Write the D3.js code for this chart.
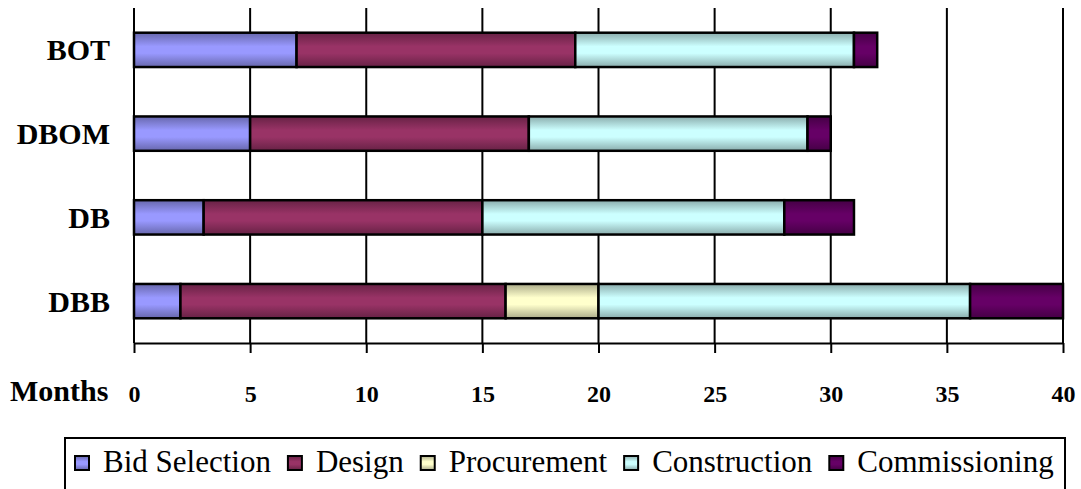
<!DOCTYPE html>
<html><head><meta charset="utf-8">
<script src="https://cdn.jsdelivr.net/npm/d3@7"></script>
<style>
html,body{margin:0;padding:0;background:#fff;}
svg{display:block;}
svg text{font-family:"Liberation Serif","DejaVu Serif",serif;}
</style></head>
<body>
<svg id="chart" width="1081" height="489"></svg>
<script>
const categories = ["BOT", "DBOM", "DB", "DBB"];
const seriesNames = ["Bid Selection", "Design", "Procurement", "Construction", "Commissioning"];
const bidSelection  = [7, 5, 3, 2];
const design        = [12, 12, 12, 14];
const procurement   = [0, 0, 0, 4];
const construction  = [12, 12, 13, 16];
const commissioning = [1, 1, 3, 4];
const xTicks = [0, 5, 10, 15, 20, 25, 30, 35, 40];
const colors = ["#9999FF", "#993366", "#FFFFCC", "#CCFFFF", "#660066"];

const seriesValues = [bidSelection, design, procurement, construction, commissioning];
const rows = categories.map((c, i) => {
  const r = {cat: c};
  seriesNames.forEach((s, j) => r[s] = seriesValues[j][i]);
  return r;
});

const svg = d3.select("#chart");
const x = d3.scaleLinear().domain([0, 40]).range([134, 1063]);
const y = d3.scaleBand().domain(categories).range([8, 343]).paddingInner(0.59).paddingOuter(0.295);

// gradients
const defs = svg.append("defs");
colors.forEach((c, i) => {
  const g = defs.append("linearGradient").attr("id", "g" + i)
    .attr("x1", 0).attr("y1", 0).attr("x2", 0).attr("y2", 1);
  const dark = d3.color(c).darker(1.1).formatHex();
  g.append("stop").attr("offset", "0%").attr("stop-color", dark);
  g.append("stop").attr("offset", "40%").attr("stop-color", c);
  g.append("stop").attr("offset", "60%").attr("stop-color", c);
  g.append("stop").attr("offset", "100%").attr("stop-color", dark);
});

// gridlines
svg.append("g").selectAll("line").data(xTicks).join("line")
  .attr("x1", d => x(d)).attr("x2", d => x(d))
  .attr("y1", 8).attr("y2", 343)
  .attr("stroke", "#000").attr("stroke-width", 2);

// axis
const axis = d3.axisBottom(x).tickValues(xTicks).tickSize(10).tickSizeOuter(0).tickPadding(32);
const ag = svg.append("g").attr("transform", "translate(0,343)").call(axis);
ag.attr("font-family", null);
ag.select(".domain").attr("stroke", "#000").attr("stroke-width", 2);
ag.selectAll(".tick line").attr("stroke", "#000").attr("stroke-width", 2);
ag.selectAll(".tick text")
  .attr("font-size", 24).attr("font-weight", "bold").attr("fill", "#000")
  .style("font-variant-numeric", "oldstyle-nums");

svg.append("text").attr("x", 10).attr("y", 401)
  .attr("font-size", 30).attr("font-weight", "bold").text("Months");

// stacked bars
const stack = d3.stack().keys(seriesNames)(rows);
svg.append("g").selectAll("g").data(stack).join("g")
  .attr("fill", (d, i) => `url(#g${i})`)
  .selectAll("rect").data(d => d.filter(p => p[1] - p[0] > 0)).join("rect")
  .attr("x", d => x(d[0])).attr("width", d => x(d[1]) - x(d[0]))
  .attr("y", d => y(d.data.cat)).attr("height", y.bandwidth())
  .attr("stroke", "#000").attr("stroke-width", 2.5);

// category labels
svg.append("g").selectAll("text").data(categories).join("text")
  .attr("x", 110).attr("y", d => y(d) + y.bandwidth() / 2)
  .attr("dy", "0.35em").attr("text-anchor", "end")
  .attr("font-size", 30).attr("font-weight", "bold").text(d => d);

// legend
const lg = svg.append("g");
lg.append("rect").attr("x", 65).attr("y", 438).attr("width", 1000).attr("height", 60)
  .attr("fill", "#fff").attr("stroke", "#000").attr("stroke-width", 2);
let cx = 75;
seriesNames.forEach((s, i) => {
  lg.append("rect").attr("x", cx).attr("y", 456).attr("width", 14).attr("height", 14)
    .attr("fill", `url(#g${i})`).attr("stroke", "#000").attr("stroke-width", 2);
  const t = lg.append("text").attr("x", cx + 28).attr("y", 472)
    .attr("font-size", 31).text(s);
  const w = t.node().getComputedTextLength();
  cx += 28 + w + 17;
});
</script>
</body></html>
